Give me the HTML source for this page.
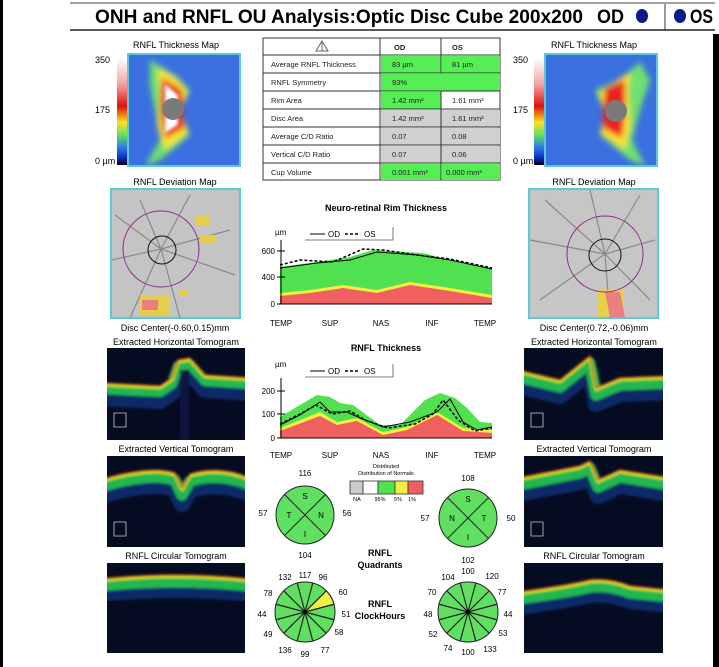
<!DOCTYPE html>
<html><head><meta charset="utf-8">
<style>
html,body{margin:0;padding:0;background:#fff;}
svg{display:block;font-family:"Liberation Sans",sans-serif;}
</style></head><body>
<svg width="719" height="667" viewBox="0 0 719 667" xmlns="http://www.w3.org/2000/svg">
<defs>
<linearGradient id="cbar" x1="0" y1="0" x2="0" y2="1">
<stop offset="0" stop-color="#ffffff"/><stop offset="0.25" stop-color="#f4a0a0"/><stop offset="0.45" stop-color="#e01010"/><stop offset="0.6" stop-color="#ffe020"/><stop offset="0.72" stop-color="#60e060"/><stop offset="0.85" stop-color="#2070f0"/><stop offset="0.95" stop-color="#1020a0"/><stop offset="1" stop-color="#000"/>
</linearGradient>
<filter id="bl" x="-30%" y="-30%" width="160%" height="160%"><feGaussianBlur stdDeviation="3"/></filter>
<filter id="bl2" x="-30%" y="-30%" width="160%" height="160%"><feGaussianBlur stdDeviation="1.5"/></filter>
<filter id="bl3" x="-10%" y="-30%" width="120%" height="160%"><feGaussianBlur stdDeviation="1.2"/></filter>
<clipPath id="cL"><rect x="128" y="54" width="112" height="112"/></clipPath>
<clipPath id="cR"><rect x="545" y="54" width="112" height="112"/></clipPath>
<clipPath id="t1"><rect x="107" y="348" width="138" height="92"/></clipPath>
<clipPath id="t2"><rect x="107" y="456" width="138" height="91"/></clipPath>
<clipPath id="t3"><rect x="107" y="563" width="138" height="90"/></clipPath>
<clipPath id="t4"><rect x="524" y="348" width="139" height="92"/></clipPath>
<clipPath id="t5"><rect x="524" y="456" width="139" height="91"/></clipPath>
<clipPath id="t6"><rect x="524" y="563" width="139" height="90"/></clipPath>
</defs>
<rect width="719" height="667" fill="#fff"/>
<rect x="0" y="0" width="3" height="667" fill="#000"/>
<rect x="713" y="34" width="6" height="633" fill="#000"/>

<!-- header -->
<line x1="70" y1="3" x2="715" y2="3" stroke="#444" stroke-width="1"/>
<line x1="70" y1="30" x2="715" y2="30" stroke="#222" stroke-width="1.5"/>
<text x="95" y="23" font-size="19" font-weight="bold" fill="#000" textLength="488" lengthAdjust="spacingAndGlyphs">ONH and RNFL OU Analysis:Optic Disc Cube 200x200</text>
<text x="597" y="23" font-size="19" font-weight="bold" textLength="27" lengthAdjust="spacingAndGlyphs">OD</text>
<ellipse cx="642" cy="16" rx="6" ry="7" fill="#0a1a8a"/>
<line x1="665" y1="4" x2="665" y2="30" stroke="#333"/>
<ellipse cx="680" cy="16" rx="6" ry="7" fill="#0a1a8a"/>
<text x="690" y="23" font-size="19" font-weight="bold" textLength="23" lengthAdjust="spacingAndGlyphs">OS</text>

<!-- left thickness map -->
<text x="176" y="48" font-size="9" text-anchor="middle">RNFL Thickness Map</text>
<rect x="117" y="58" width="10" height="107" fill="url(#cbar)"/>
<text x="95" y="63" font-size="9">350</text><text x="95" y="113" font-size="9">175</text><text x="95" y="164" font-size="9">0 µm</text>
<g clip-path="url(#cL)">
<rect x="128" y="54" width="112" height="112" fill="#3a70e0"/>
<g filter="url(#bl)">
<path d="M150,60 L175,75 L190,90 L180,110 L190,135 L160,160 L145,166 L160,140 L155,110 L150,85 Z" fill="#70e070"/>
<path d="M158,68 L180,82 L188,95 L178,110 L188,132 L165,150 L158,125 L160,95 Z" fill="#ffe030"/>
<path d="M162,78 L182,90 L183,112 L184,128 L165,138 L160,110 Z" fill="#e82020"/>
</g>
<path d="M165,84 L178,95 L178,125 L165,133 Z" fill="#fff" filter="url(#bl2)"/>
<circle cx="173" cy="109" r="11" fill="#7a7a7a"/>
</g>
<rect x="128" y="54" width="112" height="112" fill="none" stroke="#5cc8d8" stroke-width="2"/>

<!-- right thickness map -->
<text x="594" y="48" font-size="9" text-anchor="middle">RNFL Thickness Map</text>
<rect x="534" y="58" width="10" height="107" fill="url(#cbar)"/>
<text x="513" y="63" font-size="9">350</text><text x="513" y="113" font-size="9">175</text><text x="513" y="164" font-size="9">0 µm</text>
<g clip-path="url(#cR)">
<rect x="545" y="54" width="112" height="112" fill="#3a70e0"/>
<g filter="url(#bl)">
<path d="M640,62 L620,80 L595,90 L605,112 L600,135 L630,160 L645,166 L632,140 L640,110 L650,80 Z" fill="#70e070"/>
<path d="M630,72 L612,84 L598,95 L608,112 L600,132 L625,150 L630,125 L628,95 Z" fill="#ffe030"/>
<path d="M625,80 L605,88 L603,112 L603,128 L622,138 L625,110 Z" fill="#e82020"/>
</g>
<circle cx="616" cy="111" r="11" fill="#7a7a7a"/>
</g>
<rect x="545" y="54" width="112" height="112" fill="none" stroke="#5cc8d8" stroke-width="2"/>

<!-- deviation maps -->
<text x="175" y="185" font-size="9" text-anchor="middle">RNFL Deviation Map</text>
<rect x="111" y="189" width="129" height="129" fill="#c4c4c4" stroke="#5cc8d8" stroke-width="2"/>
<g stroke="#8a8a8a" stroke-width="1.2" fill="none">
<path d="M161,249 L140,200 M161,249 L190,195 M161,249 L230,230 M161,249 L235,275 M161,249 L180,318 M161,249 L130,318 M161,249 L112,260 M161,249 L115,215"/>
</g>
<g fill="#e8d040" opacity="0.9"><rect x="195" y="215" width="14" height="10"/><rect x="200" y="235" width="16" height="8"/><rect x="140" y="295" width="30" height="20"/><rect x="180" y="290" width="8" height="6"/></g>
<rect x="142" y="300" width="16" height="10" fill="#e88080"/>
<circle cx="161" cy="249" r="38" fill="none" stroke="#8a2a8a" stroke-width="1"/>
<circle cx="162" cy="250" r="14" fill="none" stroke="#111" stroke-width="1"/>
<text x="175" y="331" font-size="9" text-anchor="middle">Disc Center(-0.60,0.15)mm</text>

<text x="594" y="185" font-size="9" text-anchor="middle">RNFL Deviation Map</text>
<rect x="529" y="189" width="129" height="129" fill="#c6c6c6" stroke="#5cc8d8" stroke-width="2"/>
<g stroke="#8a8a8a" stroke-width="1.2" fill="none">
<path d="M605,254 L590,190 M605,254 L640,195 M605,254 L655,240 M605,254 L650,300 M605,254 L610,318 M605,254 L540,300 M605,254 L530,240 M605,254 L545,200"/>
</g>
<g fill="#e8d040" opacity="0.9"><rect x="598" y="290" width="25" height="27"/></g>
<path d="M605,292 L620,292 L625,317 L610,317 Z" fill="#e88080"/>
<circle cx="605" cy="254" r="38" fill="none" stroke="#8a2a8a" stroke-width="1"/>
<circle cx="605" cy="255" r="16" fill="none" stroke="#111" stroke-width="1"/>
<text x="594" y="331" font-size="9" text-anchor="middle">Disc Center(0.72,-0.06)mm</text>

<!-- tomograms -->
<g font-size="9" text-anchor="middle">
<text x="176" y="345">Extracted Horizontal Tomogram</text>
<text x="176" y="452">Extracted Vertical Tomogram</text>
<text x="176" y="559">RNFL Circular Tomogram</text>
<text x="594" y="345">Extracted Horizontal Tomogram</text>
<text x="594" y="452">Extracted Vertical Tomogram</text>
<text x="594" y="559">RNFL Circular Tomogram</text>
</g>
<g fill="none" stroke-linejoin="round">
<g clip-path="url(#t1)"><rect x="107" y="348" width="138" height="92" fill="#050c22"/>
<g filter="url(#bl3)">
<path id="p1" d="M100,383 L160,386 L172,378 L178,360 L190,358 L205,375 L250,378"/>
<use href="#p1" transform="translate(0,15)" stroke="#0e2a68" stroke-width="16"/>
<use href="#p1" transform="translate(0,6)" stroke="#20b850" stroke-width="10"/>
<use href="#p1" transform="translate(0,1.5)" stroke="#e0e020" stroke-width="3"/>
<use href="#p1" stroke="#c03010" stroke-width="1.5"/>
<rect x="180" y="370" width="9" height="70" fill="#0a1840" stroke="none"/>
</g>
<rect x="114" y="413" width="12" height="14" stroke="#ccc" stroke-width="0.8"/></g>
<g clip-path="url(#t2)"><rect x="107" y="456" width="138" height="91" fill="#050c22"/>
<g filter="url(#bl3)">
<path id="p2" d="M100,480 Q150,465 175,473 L182,488 L190,474 Q220,465 250,478"/>
<use href="#p2" transform="translate(0,16)" stroke="#0e2a68" stroke-width="16"/>
<use href="#p2" transform="translate(0,7)" stroke="#20b850" stroke-width="11"/>
<use href="#p2" transform="translate(0,1.5)" stroke="#e0e020" stroke-width="3"/>
<use href="#p2" stroke="#c03010" stroke-width="1.5"/>
</g>
<rect x="114" y="522" width="12" height="14" stroke="#ccc" stroke-width="0.8"/></g>
<g clip-path="url(#t3)"><rect x="107" y="563" width="138" height="90" fill="#050c22"/>
<g filter="url(#bl3)">
<path id="p3" d="M100,579 Q175,571 250,579"/>
<use href="#p3" transform="translate(0,16)" stroke="#0e2a68" stroke-width="14"/>
<use href="#p3" transform="translate(0,7)" stroke="#20b850" stroke-width="11"/>
<use href="#p3" transform="translate(0,1.5)" stroke="#e0e020" stroke-width="3"/>
<use href="#p3" stroke="#c03010" stroke-width="1.5"/>
</g></g>
<g clip-path="url(#t4)"><rect x="524" y="348" width="139" height="92" fill="#050c22"/>
<g filter="url(#bl3)">
<path id="p4" d="M518,370 L560,380 L590,356 L596,388 L620,378 L670,376"/>
<use href="#p4" transform="translate(0,16)" stroke="#0e2a68" stroke-width="16"/>
<use href="#p4" transform="translate(0,7)" stroke="#20b850" stroke-width="11"/>
<use href="#p4" transform="translate(0,1.5)" stroke="#e0e020" stroke-width="3"/>
<use href="#p4" stroke="#c03010" stroke-width="1.5"/>
</g>
<rect x="531" y="413" width="12" height="14" stroke="#ccc" stroke-width="0.8"/></g>
<g clip-path="url(#t5)"><rect x="524" y="456" width="139" height="91" fill="#050c22"/>
<g filter="url(#bl3)">
<path id="p5" d="M518,478 L580,466 L590,461 L598,480 L620,470 L670,478"/>
<use href="#p5" transform="translate(0,16)" stroke="#0e2a68" stroke-width="16"/>
<use href="#p5" transform="translate(0,7)" stroke="#20b850" stroke-width="11"/>
<use href="#p5" transform="translate(0,1.5)" stroke="#e0e020" stroke-width="3"/>
<use href="#p5" stroke="#c03010" stroke-width="1.5"/>
</g>
<rect x="531" y="522" width="12" height="14" stroke="#ccc" stroke-width="0.8"/></g>
<g clip-path="url(#t6)"><rect x="524" y="563" width="139" height="90" fill="#050c22"/>
<g filter="url(#bl3)">
<path id="p6" d="M518,592 Q570,585 590,580 Q610,578 630,586 L670,590"/>
<use href="#p6" transform="translate(0,16)" stroke="#0e2a68" stroke-width="14"/>
<use href="#p6" transform="translate(0,7)" stroke="#20b850" stroke-width="11"/>
<use href="#p6" transform="translate(0,1.5)" stroke="#e0e020" stroke-width="3"/>
<use href="#p6" stroke="#c03010" stroke-width="1.5"/>
</g></g>
</g>

<!-- table -->
<g font-size="7.5" fill="#222">
<rect x="263" y="38" width="237" height="142" fill="#fff" stroke="#333"/>
<rect x="381" y="56" width="60" height="17" fill="#55ee55"/>
<rect x="442" y="56" width="58" height="17" fill="#55ee55"/>
<rect x="381" y="74" width="119" height="17" fill="#55ee55"/>
<rect x="381" y="92" width="60" height="17" fill="#55ee55"/>
<rect x="381" y="110" width="119" height="17" fill="#d0d0d0"/>
<rect x="381" y="128" width="119" height="17" fill="#d0d0d0"/>
<rect x="381" y="146" width="119" height="17" fill="#d0d0d0"/>
<rect x="381" y="164" width="60" height="16" fill="#55ee55"/>
<rect x="442" y="164" width="58" height="16" fill="#55ee55"/>
<g stroke="#333" stroke-width="1">
<line x1="263" y1="55" x2="500" y2="55"/><line x1="263" y1="73" x2="500" y2="73"/><line x1="263" y1="91" x2="500" y2="91"/>
<line x1="263" y1="109" x2="500" y2="109"/><line x1="263" y1="127" x2="500" y2="127"/><line x1="263" y1="145" x2="500" y2="145"/><line x1="263" y1="163" x2="500" y2="163"/>
<line x1="380" y1="38" x2="380" y2="180"/><line x1="441" y1="38" x2="441" y2="73"/><line x1="441" y1="91" x2="441" y2="180"/>
</g>
<path d="M316,51 L322,41 L328,51 Z M322,41 L322,51" fill="none" stroke="#666"/>
<text x="394" y="50" font-weight="bold">OD</text><text x="452" y="50" font-weight="bold">OS</text>
<text x="271" y="67">Average RNFL Thickness</text><text x="392" y="67">83 µm</text><text x="452" y="67">81 µm</text>
<text x="271" y="85">RNFL Symmetry</text><text x="392" y="85">93%</text>
<text x="271" y="103">Rim Area</text><text x="392" y="103">1.42 mm²</text><text x="452" y="103">1.61 mm²</text>
<text x="271" y="121">Disc Area</text><text x="392" y="121">1.42 mm²</text><text x="452" y="121">1.61 mm²</text>
<text x="271" y="139">Average C/D Ratio</text><text x="392" y="139">0.07</text><text x="452" y="139">0.08</text>
<text x="271" y="157">Vertical C/D Ratio</text><text x="392" y="157">0.07</text><text x="452" y="157">0.06</text>
<text x="271" y="175">Cup Volume</text><text x="392" y="175">0.001 mm³</text><text x="446" y="175">0.000 mm³</text>
</g>

<!-- chart 1 -->
<text x="386" y="211" font-size="9" font-weight="bold" text-anchor="middle">Neuro-retinal Rim Thickness</text>
<text x="275" y="235" font-size="8">µm</text>
<path d="M305,240 L393,240 L393,227" fill="none" stroke="#555" stroke-width="0.8"/>
<line x1="310" y1="234" x2="325" y2="234" stroke="#000"/><text x="328" y="237" font-size="8">OD</text>
<line x1="345" y1="234" x2="360" y2="234" stroke="#000" stroke-dasharray="3,2" stroke-width="1.5"/><text x="364" y="237" font-size="8">OS</text>
<path d="M280,267 L317,262 L350,257 L373,250 L423,253 L457,262 L492,268 L492,304 L280,304 Z" fill="#50e050"/>
<path d="M280,293 L310,290 L343,285 L377,290 L410,282 L450,288 L492,295 L492,304 L280,304 Z" fill="#f0f040"/>
<path d="M280,296 L310,293 L343,288 L377,293 L410,285 L450,291 L492,298 L492,304 L280,304 Z" fill="#f06060"/>
<path d="M280,268 L317,263 L350,260 L377,252 L417,255 L450,260 L492,269" fill="none" stroke="#000" stroke-width="1"/>
<path d="M280,265 L300,260 L333,262 L363,249 L383,250 L417,255 L450,259 L492,268" fill="none" stroke="#000" stroke-width="1.5" stroke-dasharray="3,2"/>
<g stroke="#000" stroke-width="1"><line x1="281" y1="240" x2="281" y2="304"/><line x1="281" y1="304" x2="492" y2="304"/>
<line x1="277" y1="251" x2="285" y2="251"/><line x1="277" y1="277" x2="285" y2="277"/><line x1="277" y1="304" x2="285" y2="304"/></g>
<g font-size="8" text-anchor="end"><text x="275" y="254">600</text><text x="275" y="280">400</text><text x="275" y="307">0</text></g>
<g font-size="8" text-anchor="middle"><text x="281" y="326">TEMP</text><text x="330" y="326">SUP</text><text x="381" y="326">NAS</text><text x="432" y="326">INF</text><text x="485" y="326">TEMP</text></g>

<!-- chart 2 -->
<text x="386" y="351" font-size="9" font-weight="bold" text-anchor="middle">RNFL Thickness</text>
<text x="275" y="367" font-size="8">µm</text>
<path d="M305,377 L393,377 L393,364" fill="none" stroke="#555" stroke-width="0.8"/>
<line x1="310" y1="371" x2="325" y2="371" stroke="#000"/><text x="328" y="374" font-size="8">OD</text>
<line x1="345" y1="371" x2="360" y2="371" stroke="#000" stroke-dasharray="3,2" stroke-width="1.5"/><text x="364" y="374" font-size="8">OS</text>
<path d="M280,417 L300,405 L317,395 L330,397 L340,403 L353,405 L380,425 L400,425 L425,400 L440,393 L455,398 L467,408 L480,422 L492,423 L492,438 L280,438 Z" fill="#50e050"/>
<path d="M280,428 L320,412 L337,422 L357,418 L383,432 L407,427 L437,412 L463,428 L492,430 L492,438 L280,438 Z" fill="#f0f040"/>
<path d="M280,431 L320,416 L337,425 L357,421 L383,435 L407,430 L437,415 L463,431 L492,433 L492,438 L280,438 Z" fill="#f06060"/>
<path d="M280,425 L300,415 L320,402 L330,412 L347,412 L360,418 L383,427 L410,422 L437,412 L450,399 L463,422 L477,430 L492,427" fill="none" stroke="#000" stroke-width="1"/>
<path d="M280,424 L300,414 L316,405 L332,414 L350,411 L365,420 L388,428 L415,424 L433,414 L443,400 L458,420 L475,431 L492,428" fill="none" stroke="#000" stroke-width="1.5" stroke-dasharray="3,2"/>
<g stroke="#000" stroke-width="1"><line x1="281" y1="378" x2="281" y2="438"/><line x1="281" y1="438" x2="492" y2="438"/>
<line x1="277" y1="391" x2="285" y2="391"/><line x1="277" y1="414" x2="285" y2="414"/><line x1="277" y1="438" x2="285" y2="438"/></g>
<g font-size="8" text-anchor="end"><text x="275" y="394">200</text><text x="275" y="417">100</text><text x="275" y="441">0</text></g>
<g font-size="8" text-anchor="middle"><text x="281" y="458">TEMP</text><text x="330" y="458">SUP</text><text x="381" y="458">NAS</text><text x="432" y="458">INF</text><text x="485" y="458">TEMP</text></g>

<!-- legend -->
<text x="386" y="468" font-size="5.5" text-anchor="middle">Distributed</text>
<text x="386" y="475" font-size="5.5" text-anchor="middle">Distribution of Normals</text>
<g stroke="#333" stroke-width="0.8">
<rect x="350" y="481" width="13" height="13" fill="#ccc"/><rect x="363" y="481" width="15" height="13" fill="#fff"/>
<rect x="378" y="481" width="17" height="13" fill="#50e050"/><rect x="395" y="481" width="13" height="13" fill="#f0f040"/><rect x="408" y="481" width="15" height="13" fill="#f06060"/></g>
<g font-size="5.5" text-anchor="middle"><text x="357" y="501">NA</text><text x="380" y="501">95%</text><text x="398" y="501">5%</text><text x="412" y="501">1%</text></g>

<!-- quadrants -->
<g stroke="#222" stroke-width="1">
<circle cx="305" cy="515" r="29" fill="#60e060"/>
<line x1="284.5" y1="494.5" x2="325.5" y2="535.5"/><line x1="325.5" y1="494.5" x2="284.5" y2="535.5"/>
<circle cx="468" cy="518" r="29" fill="#60e060"/>
<line x1="447.5" y1="497.5" x2="488.5" y2="538.5"/><line x1="488.5" y1="497.5" x2="447.5" y2="538.5"/>
</g>
<g font-size="8" text-anchor="middle">
<text x="305" y="499">S</text><text x="289" y="518">T</text><text x="321" y="518">N</text><text x="305" y="537">I</text>
<text x="468" y="502">S</text><text x="452" y="521">N</text><text x="484" y="521">T</text><text x="468" y="540">I</text>
<text x="305" y="476">116</text><text x="263" y="516">57</text><text x="347" y="516">56</text><text x="305" y="558">104</text>
<text x="468" y="481">108</text><text x="425" y="521">57</text><text x="511" y="521">50</text><text x="468" y="563">102</text>
</g>
<g font-size="9" font-weight="bold" text-anchor="middle">
<text x="380" y="556">RNFL</text><text x="380" y="568">Quadrants</text>
<text x="380" y="607">RNFL</text><text x="380" y="619">ClockHours</text>
</g>

<!-- clock hours -->
<g stroke="#222" stroke-width="1">
<circle cx="305" cy="612" r="30" fill="#60e060"/>
<path d="M305,612 L333.98,604.24 A30,30 0 0 0 326.21,590.79 Z" fill="#f0f040"/>
<circle cx="468" cy="612" r="30" fill="#60e060"/>
</g>
<g stroke="#222" stroke-width="1.2">
<path d="M297.24,583.02 L312.76,640.98 M283.79,590.79 L326.21,633.21 M276.02,604.24 L333.98,619.76 M276.02,619.76 L333.98,604.24 M283.79,633.21 L326.21,590.79 M297.24,640.98 L312.76,583.02"/>
<path d="M460.24,583.02 L475.76,640.98 M446.79,590.79 L489.21,633.21 M439.02,604.24 L496.98,619.76 M439.02,619.76 L496.98,604.24 M446.79,633.21 L489.21,590.79 M460.24,640.98 L475.76,583.02"/>
</g>
<circle cx="305" cy="612" r="2" fill="#000"/><circle cx="468" cy="612" r="2" fill="#000"/>
<g font-size="8" text-anchor="middle">
<text x="285" y="580">132</text><text x="305" y="578">117</text><text x="323" y="580">96</text><text x="268" y="596">78</text><text x="343" y="595">60</text>
<text x="262" y="617">44</text><text x="346" y="617">51</text><text x="268" y="637">49</text><text x="339" y="635">58</text>
<text x="285" y="653">136</text><text x="305" y="657">99</text><text x="325" y="653">77</text>
<text x="448" y="580">104</text><text x="468" y="574">100</text><text x="492" y="579">120</text><text x="432" y="595">70</text><text x="502" y="595">77</text>
<text x="428" y="617">48</text><text x="508" y="617">44</text><text x="433" y="637">52</text><text x="503" y="636">53</text>
<text x="448" y="651">74</text><text x="468" y="655">100</text><text x="490" y="652">133</text>
</g>
</svg>
</body></html>
